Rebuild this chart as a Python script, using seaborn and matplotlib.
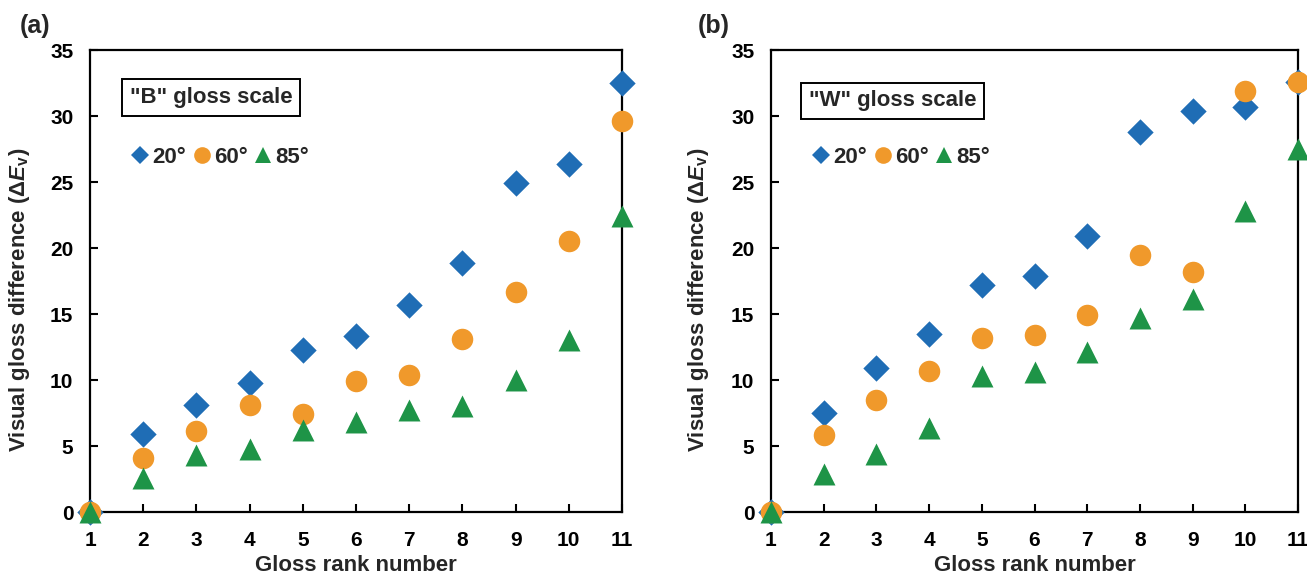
import numpy as np
import pandas as pd
import matplotlib
matplotlib.use("Agg")
import matplotlib.pyplot as plt
from matplotlib.lines import Line2D
import seaborn as sns

rank = [1, 2, 3, 4, 5, 6, 7, 8, 9, 10, 11]

b_20 = [0, 5.9, 8.1, 9.8, 12.3, 13.3, 15.7, 18.9, 24.9, 26.4, 32.5]
b_60 = [0, 4.1, 6.1, 8.1, 7.4, 9.9, 10.4, 13.1, 16.7, 20.5, 29.6]
b_85 = [0, 2.6, 4.3, 4.8, 6.2, 6.8, 7.7, 8.0, 10.0, 13.0, 22.4]

w_20 = [0, 7.5, 10.9, 13.5, 17.2, 17.9, 20.9, 28.8, 30.4, 30.7, 32.6]
w_60 = [0, 5.8, 8.5, 10.7, 13.2, 13.4, 14.9, 19.5, 18.2, 31.9, 32.6]
w_85 = [0, 2.9, 4.4, 6.4, 10.3, 10.6, 12.1, 14.7, 16.1, 22.8, 27.5]

angles = ["20°", "60°", "85°"]
panel_titles = ['"B" gloss scale', '"W" gloss scale']
panel_tags = ["(a)", "(b)"]
yticks = [0, 5, 10, 15, 20, 25, 30, 35]

colors = {"20°": "#1F6DB5", "60°": "#F0992B", "85°": "#1E9447"}
markers = {"20°": "D", "60°": "o", "85°": "^"}
msizes = {"20°": 180, "60°": 240, "85°": 250}

sns.set_theme(style="white")
plt.rcParams["font.family"] = ["Liberation Sans", "DejaVu Sans"]
plt.rcParams["font.weight"] = "bold"
plt.rcParams["mathtext.fontset"] = "custom"
plt.rcParams["mathtext.rm"] = "Liberation Sans:bold"
plt.rcParams["mathtext.it"] = "Liberation Sans:bold:italic"
plt.rcParams["mathtext.bf"] = "Liberation Sans:bold"

fig = plt.figure(figsize=(13.07, 5.79), dpi=100)
ax1 = fig.add_axes([90 / 1307, 1 - 512 / 579, 532 / 1307, 462 / 579])
ax2 = fig.add_axes([771 / 1307, 1 - 512 / 579, 527 / 1307, 462 / 579])

datasets = [
    {"20°": b_20, "60°": b_60, "85°": b_85},
    {"20°": w_20, "60°": w_60, "85°": w_85},
]

ylabel_x = [-0.109, -0.114]
tag_x = [20 / 1307, 698 / 1307]
legend_x = [0.082, 0.083]
box_x = [0.075, 0.072]
box_y = [0.897, 0.89]

for i, (ax, data) in enumerate(zip([ax1, ax2], datasets)):
    for ang in angles:
        df = pd.DataFrame({"rank": rank, "val": data[ang]})
        sns.scatterplot(data=df, x="rank", y="val", ax=ax, marker=markers[ang],
                        s=msizes[ang], color=colors[ang], linewidth=0,
                        clip_on=False, zorder=3, legend=False)
    ax.set_xlim(1, 11)
    ax.set_ylim(0, 35)
    ax.set_xticks(rank)
    ax.set_yticks(yticks)
    ax.set_xticklabels([str(r) for r in rank], fontsize=15, fontweight="bold")
    ax.set_yticklabels([str(t) for t in yticks], fontsize=15, fontweight="bold")
    ax.tick_params(axis="x", direction="in", length=6, width=1.5, pad=14,
                   bottom=True, colors="black")
    ax.tick_params(axis="y", direction="in", length=6, width=1.5, pad=12,
                   left=True, colors="black")
    for sp in ax.spines.values():
        sp.set_color("black")
        sp.set_linewidth(1.6)
    ax.set_xlabel("Gloss rank number", fontsize=16, fontweight="bold", labelpad=3)
    ax.set_ylabel(r"Visual gloss difference ($\Delta\mathit{E}_{\mathrm{v}}$)",
                  fontsize=16, fontweight="bold")
    ax.yaxis.set_label_coords(ylabel_x[i], 0.459)
    ax.text(box_x[i], box_y[i], panel_titles[i], transform=ax.transAxes,
            fontsize=16, fontweight="bold", va="center", ha="left",
            bbox=dict(boxstyle="square,pad=0.35", facecolor="white",
                      edgecolor="black", linewidth=1.4))
    handles = [Line2D([0], [0], marker=markers[a], color=colors[a], linestyle="none",
                      markersize={"20°": 9, "60°": 12, "85°": 12}[a], markeredgewidth=0)
               for a in angles]
    ax.legend(handles, angles, loc="center left",
              bbox_to_anchor=(legend_x[i], 0.768), ncol=3, frameon=False,
              handlelength=0.6, handletextpad=0.25, columnspacing=0.4,
              borderpad=0, borderaxespad=0,
              prop={"size": 16, "weight": "bold"})
    fig.text(tag_x[i], 1 - 26 / 579, panel_tags[i], fontsize=18, fontweight="bold",
             ha="left", va="center")

fig.savefig("out.png", dpi=100)
